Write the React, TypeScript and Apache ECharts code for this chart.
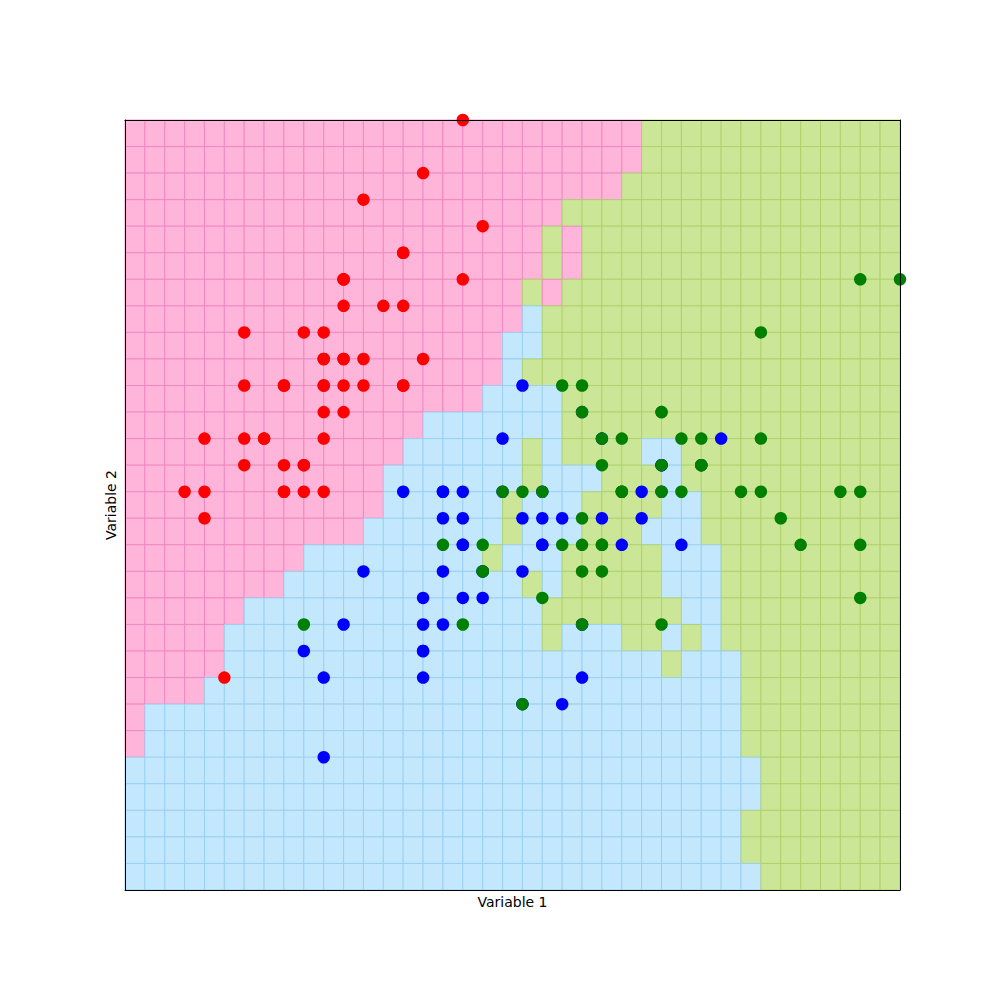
import React, { useEffect, useRef } from "react";
import * as echarts from "echarts";

// Decision mesh: 39 columns (x 4.0 .. 7.9, step 0.1) x 29 rows (y 4.4 .. 1.5, top to bottom)
const MESH_X_START = 4.0;
const MESH_Y_TOP = 4.4;
const MESH_STEP = 0.1;

// Run-length encoded class per row, top row first (r = setosa, b = versicolor, g = virginica)
const meshRows: string[] = [
  "r26 g13",
  "r26 g13",
  "r25 g14",
  "r22 g17",
  "r21 g1 r1 g16",
  "r21 g1 r1 g16",
  "r20 g1 r1 g17",
  "r20 b1 g18",
  "r19 b2 g18",
  "r19 b1 g19",
  "r18 b4 g17",
  "r15 b7 g17",
  "r14 b6 g1 b1 g4 b2 g11",
  "r13 b7 g1 b3 g3 b1 g11",
  "r13 b6 g1 b3 g4 b2 g10",
  "r12 b7 g1 b3 g3 b3 g10",
  "r9 b9 g1 b3 g5 b3 g9",
  "r8 b12 g1 b1 g5 b3 g9",
  "r6 b15 g7 b2 g9",
  "r5 b16 g1 b3 g2 b1 g1 b1 g9",
  "r5 b22 g1 b3 g8",
  "r4 b27 g8",
  "r1 b30 g8",
  "r1 b30 g8",
  "b32 g7",
  "b32 g7",
  "b31 g8",
  "b31 g8",
  "b32 g7",
];

const setosa: number[][] = [
  [5.1, 3.5], [4.9, 3.0], [4.7, 3.2], [4.6, 3.1], [5.0, 3.6], [5.4, 3.9], [4.6, 3.4], [5.0, 3.4],
  [4.4, 2.9], [4.9, 3.1], [5.4, 3.7], [4.8, 3.4], [4.8, 3.0], [4.3, 3.0], [5.8, 4.0], [5.7, 4.4],
  [5.4, 3.9], [5.1, 3.5], [5.7, 3.8], [5.1, 3.8], [5.4, 3.4], [5.1, 3.7], [4.6, 3.6], [5.1, 3.3],
  [4.8, 3.4], [5.0, 3.0], [5.0, 3.4], [5.2, 3.5], [5.2, 3.4], [4.7, 3.2], [4.8, 3.1], [5.4, 3.4],
  [5.2, 4.1], [5.5, 4.2], [4.9, 3.1], [5.0, 3.2], [5.5, 3.5], [4.9, 3.6], [4.4, 3.0], [5.1, 3.4],
  [5.0, 3.5], [4.5, 2.3], [4.4, 3.2], [5.0, 3.5], [5.1, 3.8], [4.8, 3.0], [5.1, 3.8], [4.6, 3.2],
  [5.3, 3.7], [5.0, 3.3],
];

const versicolor: number[][] = [
  [7.0, 3.2], [6.4, 3.2], [6.9, 3.1], [5.5, 2.3], [6.5, 2.8], [5.7, 2.8], [6.3, 3.3], [4.9, 2.4],
  [6.6, 2.9], [5.2, 2.7], [5.0, 2.0], [5.9, 3.0], [6.0, 2.2], [6.1, 2.9], [5.6, 2.9], [6.7, 3.1],
  [5.6, 3.0], [5.8, 2.7], [6.2, 2.2], [5.6, 2.5], [5.9, 3.2], [6.1, 2.8], [6.3, 2.5], [6.1, 2.8],
  [6.4, 2.9], [6.6, 3.0], [6.8, 2.8], [6.7, 3.0], [6.0, 2.9], [5.7, 2.6], [5.5, 2.4], [5.5, 2.4],
  [5.8, 2.7], [6.0, 2.7], [5.4, 3.0], [6.0, 3.4], [6.7, 3.1], [6.3, 2.3], [5.6, 3.0], [5.5, 2.5],
  [5.5, 2.6], [6.1, 3.0], [5.8, 2.6], [5.0, 2.3], [5.6, 2.7], [5.7, 3.0], [5.7, 2.9], [6.2, 2.9],
  [5.1, 2.5], [5.7, 2.8],
];

const virginica: number[][] = [
  [6.3, 3.3], [5.8, 2.7], [7.1, 3.0], [6.3, 2.9], [6.5, 3.0], [7.6, 3.0], [4.9, 2.5], [7.3, 2.9],
  [6.7, 2.5], [7.2, 3.6], [6.5, 3.2], [6.4, 2.7], [6.8, 3.0], [5.7, 2.5], [5.8, 2.8], [6.4, 3.2],
  [6.5, 3.0], [7.7, 3.8], [7.7, 2.6], [6.0, 2.2], [6.9, 3.2], [5.6, 2.8], [7.7, 2.8], [6.3, 2.7],
  [6.7, 3.3], [7.2, 3.2], [6.2, 2.8], [6.1, 3.0], [6.4, 2.8], [7.2, 3.0], [7.4, 2.8], [7.9, 3.8],
  [6.4, 2.8], [6.3, 2.8], [6.1, 2.6], [7.7, 3.0], [6.3, 3.4], [6.4, 3.1], [6.0, 3.0], [6.9, 3.1],
  [6.7, 3.1], [6.9, 3.1], [5.8, 2.7], [6.8, 3.2], [6.7, 3.3], [6.7, 3.0], [6.3, 2.5], [6.5, 3.0],
  [6.2, 3.4], [5.9, 3.0],
];

const CELL_FILL: Record<string, string> = { r: "#ffb4d9", b: "#c3e7fd", g: "#cce698" };
const CELL_EDGE: Record<string, string> = { r: "#ee82bf", b: "#94cdf0", g: "#a9cf62" };

function buildCells(): (number | string)[][] {
  const cells: (number | string)[][] = [];
  meshRows.forEach((rowStr, r) => {
    let c = 0;
    rowStr.split(" ").forEach((tok) => {
      const cls = tok[0];
      const n = parseInt(tok.slice(1), 10);
      for (let k = 0; k < n; k++) {
        const x0 = +(MESH_X_START + MESH_STEP * c).toFixed(2);
        const yTop = +(MESH_Y_TOP - MESH_STEP * r).toFixed(2);
        cells.push([x0, yTop, cls]);
        c++;
      }
    });
  });
  return cells;
}

export default function App() {
  const ref = useRef<HTMLDivElement>(null);
  useEffect(() => {
    if (!ref.current) return;
    const chart = echarts.init(ref.current, null, { renderer: "svg" });
    const cells = buildCells();
    const axisCommon = {
      type: "value" as const,
      splitLine: { show: false },
      axisTick: { show: false },
      axisLabel: { show: false },
      axisLine: { show: true, onZero: false, lineStyle: { color: "#000", width: 1 } },
      z: 10,
    };
    const nameStyle = { color: "#000", fontSize: 14, fontFamily: "DejaVu Sans" };
    chart.setOption({
      animation: false,
      backgroundColor: "#ffffff",
      grid: { left: 125, top: 120, right: 100, bottom: 110 },
      xAxis: [
        {
          ...axisCommon,
          min: 4.0,
          max: 7.9,
          position: "bottom",
          name: "Variable 1",
          nameLocation: "middle",
          nameGap: 5,
          nameTextStyle: { ...nameStyle, verticalAlign: "top" },
        },
        { ...axisCommon, min: 4.0, max: 7.9, position: "top" },
      ],
      yAxis: [
        {
          ...axisCommon,
          min: 1.5,
          max: 4.4,
          position: "left",
          name: "Variable 2",
          nameLocation: "middle",
          nameGap: 7,
          nameRotate: 90,
          nameTextStyle: nameStyle,
        },
        { ...axisCommon, min: 1.5, max: 4.4, position: "right" },
      ],
      series: [
        {
          type: "custom",
          silent: true,
          z: 1,
          data: cells,
          encode: { x: 0, y: 1 },
          renderItem: (params: any, api: any) => {
            const x0 = api.value(0);
            const yTop = api.value(1);
            const cls = cells[params.dataIndex][2] as string;
            const p1 = api.coord([x0, yTop]);
            const p2 = api.coord([x0 + MESH_STEP, yTop - MESH_STEP]);
            return {
              type: "rect",
              shape: { x: p1[0], y: p1[1], width: p2[0] - p1[0], height: p2[1] - p1[1] },
              style: { fill: CELL_FILL[cls], stroke: CELL_EDGE[cls], lineWidth: 0.8 },
            };
          },
        },
        {
          type: "scatter",
          z: 3,
          clip: false,
          symbolSize: 12.5,
          itemStyle: { color: "#ff0000", opacity: 1 },
          data: setosa,
        },
        {
          type: "scatter",
          z: 3,
          clip: false,
          symbolSize: 12.5,
          itemStyle: { color: "#0000ff", opacity: 1 },
          data: versicolor,
        },
        {
          type: "scatter",
          z: 3,
          clip: false,
          symbolSize: 12.5,
          itemStyle: { color: "#008000", opacity: 1 },
          data: virginica,
        },
      ],
    });
    return () => chart.dispose();
  }, []);
  return (
    <div
      ref={ref}
      style={{ position: "fixed", left: 0, top: 0, width: 1000, height: 1000 }}
    />
  );
}
